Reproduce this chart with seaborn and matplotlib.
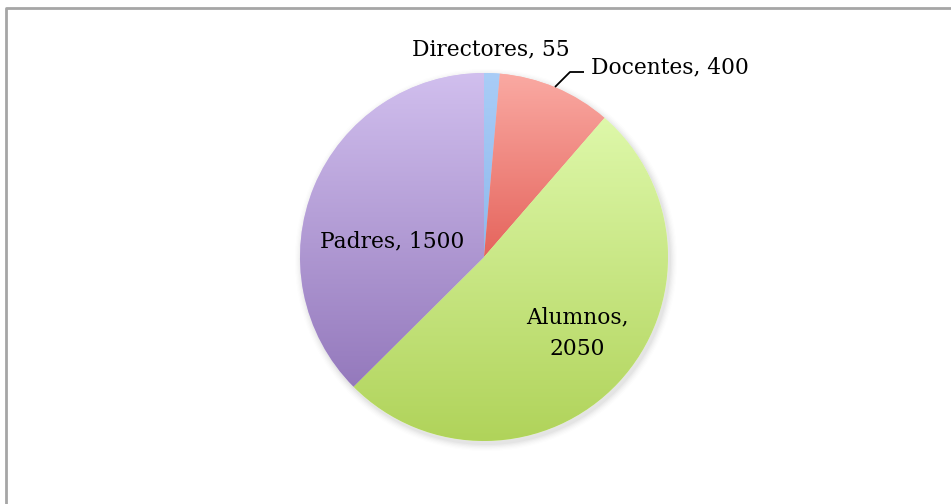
import numpy as np
import matplotlib
matplotlib.use("Agg")
import matplotlib.pyplot as plt
import seaborn as sns
from matplotlib.patches import Circle
from matplotlib.colors import LinearSegmentedColormap

labels = ["Directores", "Docentes", "Alumnos", "Padres"]
values = [55, 400, 2050, 1500]
top_colors = ["#A9CDF7", "#FAAAA3", "#DEF8AA", "#D1BFEE"]
bottom_colors = ["#8FB8EC", "#E5645C", "#B0D35A", "#9479BC"]

sns.set_theme(style="white")
plt.rcParams['font.family'] = ['DejaVu Serif']

W, H = 951, 504
fig = plt.figure(figsize=(W / 100, H / 100), dpi=100)
ax = fig.add_axes([0, 0, 1, 1])

cx, cy, R = 484, H - 257, 184

# soft shadow
for i, a in enumerate(np.linspace(0.05, 0.012, 6)):
    ax.add_patch(Circle((cx + 2, cy - 3), R + 1 + i * 1.2, color="#7f7f7f",
                        alpha=a, lw=0, zorder=0))
ax.add_patch(Circle((cx, cy), R, color="white", lw=0, zorder=0.5))

wedges, _ = ax.pie(values, startangle=90, counterclock=False, center=(cx, cy),
                   radius=R, colors=top_colors,
                   wedgeprops=dict(linewidth=0), frame=True)

for w, c0, c1 in zip(wedges, top_colors, bottom_colors):
    w.set_zorder(1)
    verts = w.get_path().vertices
    ymin, ymax = verts[:, 1].min(), verts[:, 1].max()
    xmin, xmax = verts[:, 0].min(), verts[:, 0].max()
    cmap = LinearSegmentedColormap.from_list("g", [c1, c0])
    grad = np.linspace(0, 1, 256).reshape(-1, 1)
    im = ax.imshow(grad, cmap=cmap, origin="lower", aspect="auto",
                   extent=(xmin - 1, xmax + 1, ymin - 1, ymax + 1), zorder=2,
                   interpolation="bilinear")
    im.set_clip_path(w)

ax.set_xlim(0, W)
ax.set_ylim(0, H)
ax.set_aspect("auto")
ax.axis("off")

fs = 15.7
kw = dict(ha="center", va="baseline", fontsize=fs, color="black", zorder=5)
ax.text(491, H - 55, f"{labels[0]}, {values[0]}", **kw)
ax.text(670, H - 73, f"{labels[1]}, {values[1]}", **kw)
ax.plot([555, 570, 584], [H - 87, H - 72, H - 72], color="black", lw=1.3,
        zorder=5, solid_capstyle="butt")
ax.text(392, H - 247, f"{labels[3]}, {values[3]}", **kw)
ax.text(577, H - 323, f"{labels[2]},", **kw)
ax.text(577, H - 355, f"{values[2]}", **kw)

# outer frame (top and left visible)
ax.plot([6, 6, W + 5], [-5, H - 7.5, H - 7.5], color="#A6A6A6", lw=2,
        zorder=6, clip_on=False)

fig.savefig("out.png", dpi=100)
